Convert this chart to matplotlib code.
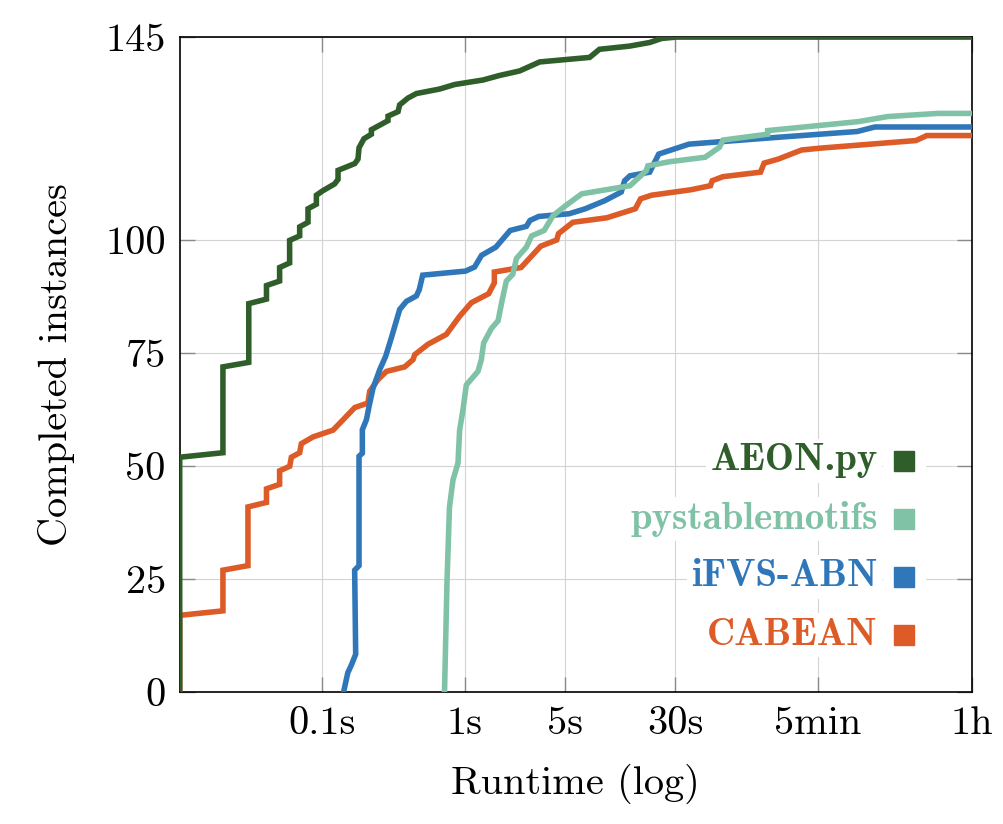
import matplotlib
matplotlib.use('Agg')
import matplotlib.pyplot as plt

plt.rcParams['font.family'] = ['cmr10', 'DejaVu Serif']
plt.rcParams['axes.formatter.use_mathtext'] = True

# runtime (seconds) / completed instances
aeon_t = [0.01, 0.01, 0.0201, 0.0201, 0.0305, 0.0305, 0.0406, 0.0406, 0.0502, 0.0502,
          0.059, 0.059, 0.0694, 0.0694, 0.0794, 0.0794, 0.0909, 0.0909, 0.101, 0.122,
          0.129, 0.129, 0.169, 0.178, 0.181, 0.196, 0.221, 0.221, 0.289, 0.289,
          0.34, 0.349, 0.399, 0.457, 0.666, 0.848, 1.34, 1.75, 2.42, 3.35,
          7.5, 8.8, 14.3, 19.8, 24, 30.5, 3600]
aeon_n = [0, 52, 53, 72, 73, 86, 87, 90, 91, 94,
          95, 100, 101, 103, 104, 107, 108, 110, 111, 112.5,
          113.5, 115.5, 117, 118, 120.5, 122.5, 123.5, 124.5, 126.5, 127.5,
          128.5, 130, 131.5, 132.5, 133.5, 134.5, 135.5, 136.5, 137.5, 139.5,
          140.5, 142.3, 143, 143.8, 144.7, 145, 145]

psm_t = [0.72, 0.75, 0.78, 0.826, 0.895, 0.919, 0.97, 1.024, 1.236, 1.305,
         1.355, 1.535, 1.71, 1.83, 1.955, 2.17, 2.3, 2.7, 2.94, 3.6,
         4.16, 5.1, 6.6, 14.4, 15.7, 18.7, 19.2, 27.2, 48.4, 61,
         64.6, 133, 133, 580, 920, 2065, 3600]
psm_n = [0, 24.8, 41, 47, 50.7, 58, 62.5, 68, 71, 73.6,
         77.3, 80.5, 82.2, 86.9, 91, 92.5, 96, 98.5, 101, 102.2,
         105.5, 107.7, 110.3, 112.1, 113.2, 115.4, 116.5, 117.4, 118.4, 120.6,
         122.2, 123.5, 124.3, 126.3, 127.4, 128.1, 128.1]

ifvs_t = [0.141, 0.151, 0.16, 0.1715, 0.1687, 0.181, 0.181, 0.191, 0.191, 0.204,
          0.213, 0.227, 0.253, 0.278, 0.305, 0.349, 0.389, 0.457, 0.479, 0.506,
          1.01, 1.17, 1.31, 1.65, 2.08, 2.7, 2.86, 3.3, 5.4, 7.0,
          9.6, 12.5, 13.2, 14.4, 19.8, 22.9, 37.3, 154, 564, 752, 3600]
ifvs_n = [0, 4.3, 6, 8.4, 27, 28, 52.2, 52.9, 58.1, 60.3,
          63.3, 67.3, 71.4, 74.3, 78.4, 84.7, 86.5, 87.7, 89.1, 92.3,
          93.2, 94.1, 96.7, 98.5, 102.2, 103.1, 104.4, 105.3, 105.9, 107,
          108.8, 110.7, 113.2, 114.3, 115.1, 119.1, 121.3, 122.8, 124.1, 125.1, 125.1]

cabean_t = [0.01, 0.01, 0.0201, 0.0201, 0.0301, 0.0301, 0.0406, 0.0406, 0.0502, 0.0502,
            0.0591, 0.0607, 0.0694, 0.0713, 0.0861, 0.119, 0.140, 0.169, 0.209, 0.215,
            0.246, 0.282, 0.378, 0.433, 0.445, 0.551, 0.742, 0.919, 1.11, 1.47,
            1.61, 1.61, 2.48, 3.4, 4.41, 4.54, 5.72, 9.9, 15.7, 17.1,
            20.4, 38.4, 52.8, 54.3, 64.6, 118.5, 125.6, 158, 230, 307,
            1459, 1738, 3600]
cabean_n = [0, 17, 18, 27, 28, 41, 42, 45, 46, 49,
            50, 52, 53, 55, 56.5, 58, 60.3, 63, 64, 66.6,
            69.2, 71, 72, 73.6, 74.7, 77, 79.2, 83.2, 86.2, 88.2,
            90.6, 93, 94, 98.7, 100.1, 101.5, 104, 105, 107, 109.2,
            110, 111.2, 112.1, 113.2, 114.1, 115.1, 117.1, 118, 120, 120.4,
            122.1, 123.2, 123.2]

tools = ['AEON.py', 'pystablemotifs', 'iFVS-ABN', 'CABEAN']
colors = ['#2f5e2b', '#80c2a6', '#2f77b9', '#dc5b27']
series = [(aeon_t, aeon_n), (psm_t, psm_n), (ifvs_t, ifvs_n), (cabean_t, cabean_n)]

xticks = [0.1, 1, 5, 30, 300, 3600]
xtick_labels = ['0.1s', '1s', '5s', '30s', '5min', '1h']
yticks = [0, 25, 50, 75, 100, 145]

fig = plt.figure(figsize=(10.04, 8.24), dpi=100)
ax = fig.add_axes([0.179, 0.160, 0.789, 0.795])

# draw slowest first so AEON sits on top
for (t, n), c in list(zip(series, colors))[::-1]:
    ax.plot(t, n, color=c, lw=4.0, solid_joinstyle='miter', zorder=3, clip_on=True)

ax.set_xscale('log')
ax.set_xlim(0.01, 3600)
ax.set_ylim(0, 145)
ax.set_xticks(xticks)
ax.set_xticklabels(xtick_labels)
ax.xaxis.set_minor_locator(matplotlib.ticker.NullLocator())
ax.set_yticks(yticks)
ax.set_yticklabels([str(v) for v in yticks])

ax.grid(True, color='#d3d3d3', lw=0.8)
ax.set_axisbelow(True)
ax.tick_params(direction='in', length=11, width=1, color='#8a8a8a',
               top=True, right=True, labelsize=29, pad=10)
for s in ax.spines.values():
    s.set_linewidth(1.2)

ax.set_xlabel('Runtime (log)', fontsize=29, labelpad=16)
ax.set_ylabel('Completed instances', fontsize=29, labelpad=22)

# legend: coloured bold labels with a square, each on its own white patch
leg_y = [0.353, 0.264, 0.176, 0.087]
for name, c, y in zip(tools, colors, leg_y):
    ax.text(0.881, y, name, transform=ax.transAxes, ha='right', va='center',
            fontsize=28, color=c, family=['cmb10', 'DejaVu Serif'],
            bbox=dict(fc='white', ec='none', pad=3), zorder=4)
    ax.plot([0.914], [y], marker='s', ms=30, color='white', transform=ax.transAxes,
            zorder=4, clip_on=False)
    ax.plot([0.914], [y], marker='s', ms=15, color=c, mec=c, transform=ax.transAxes,
            zorder=5, clip_on=False)

fig.savefig('out.png', dpi=100)
